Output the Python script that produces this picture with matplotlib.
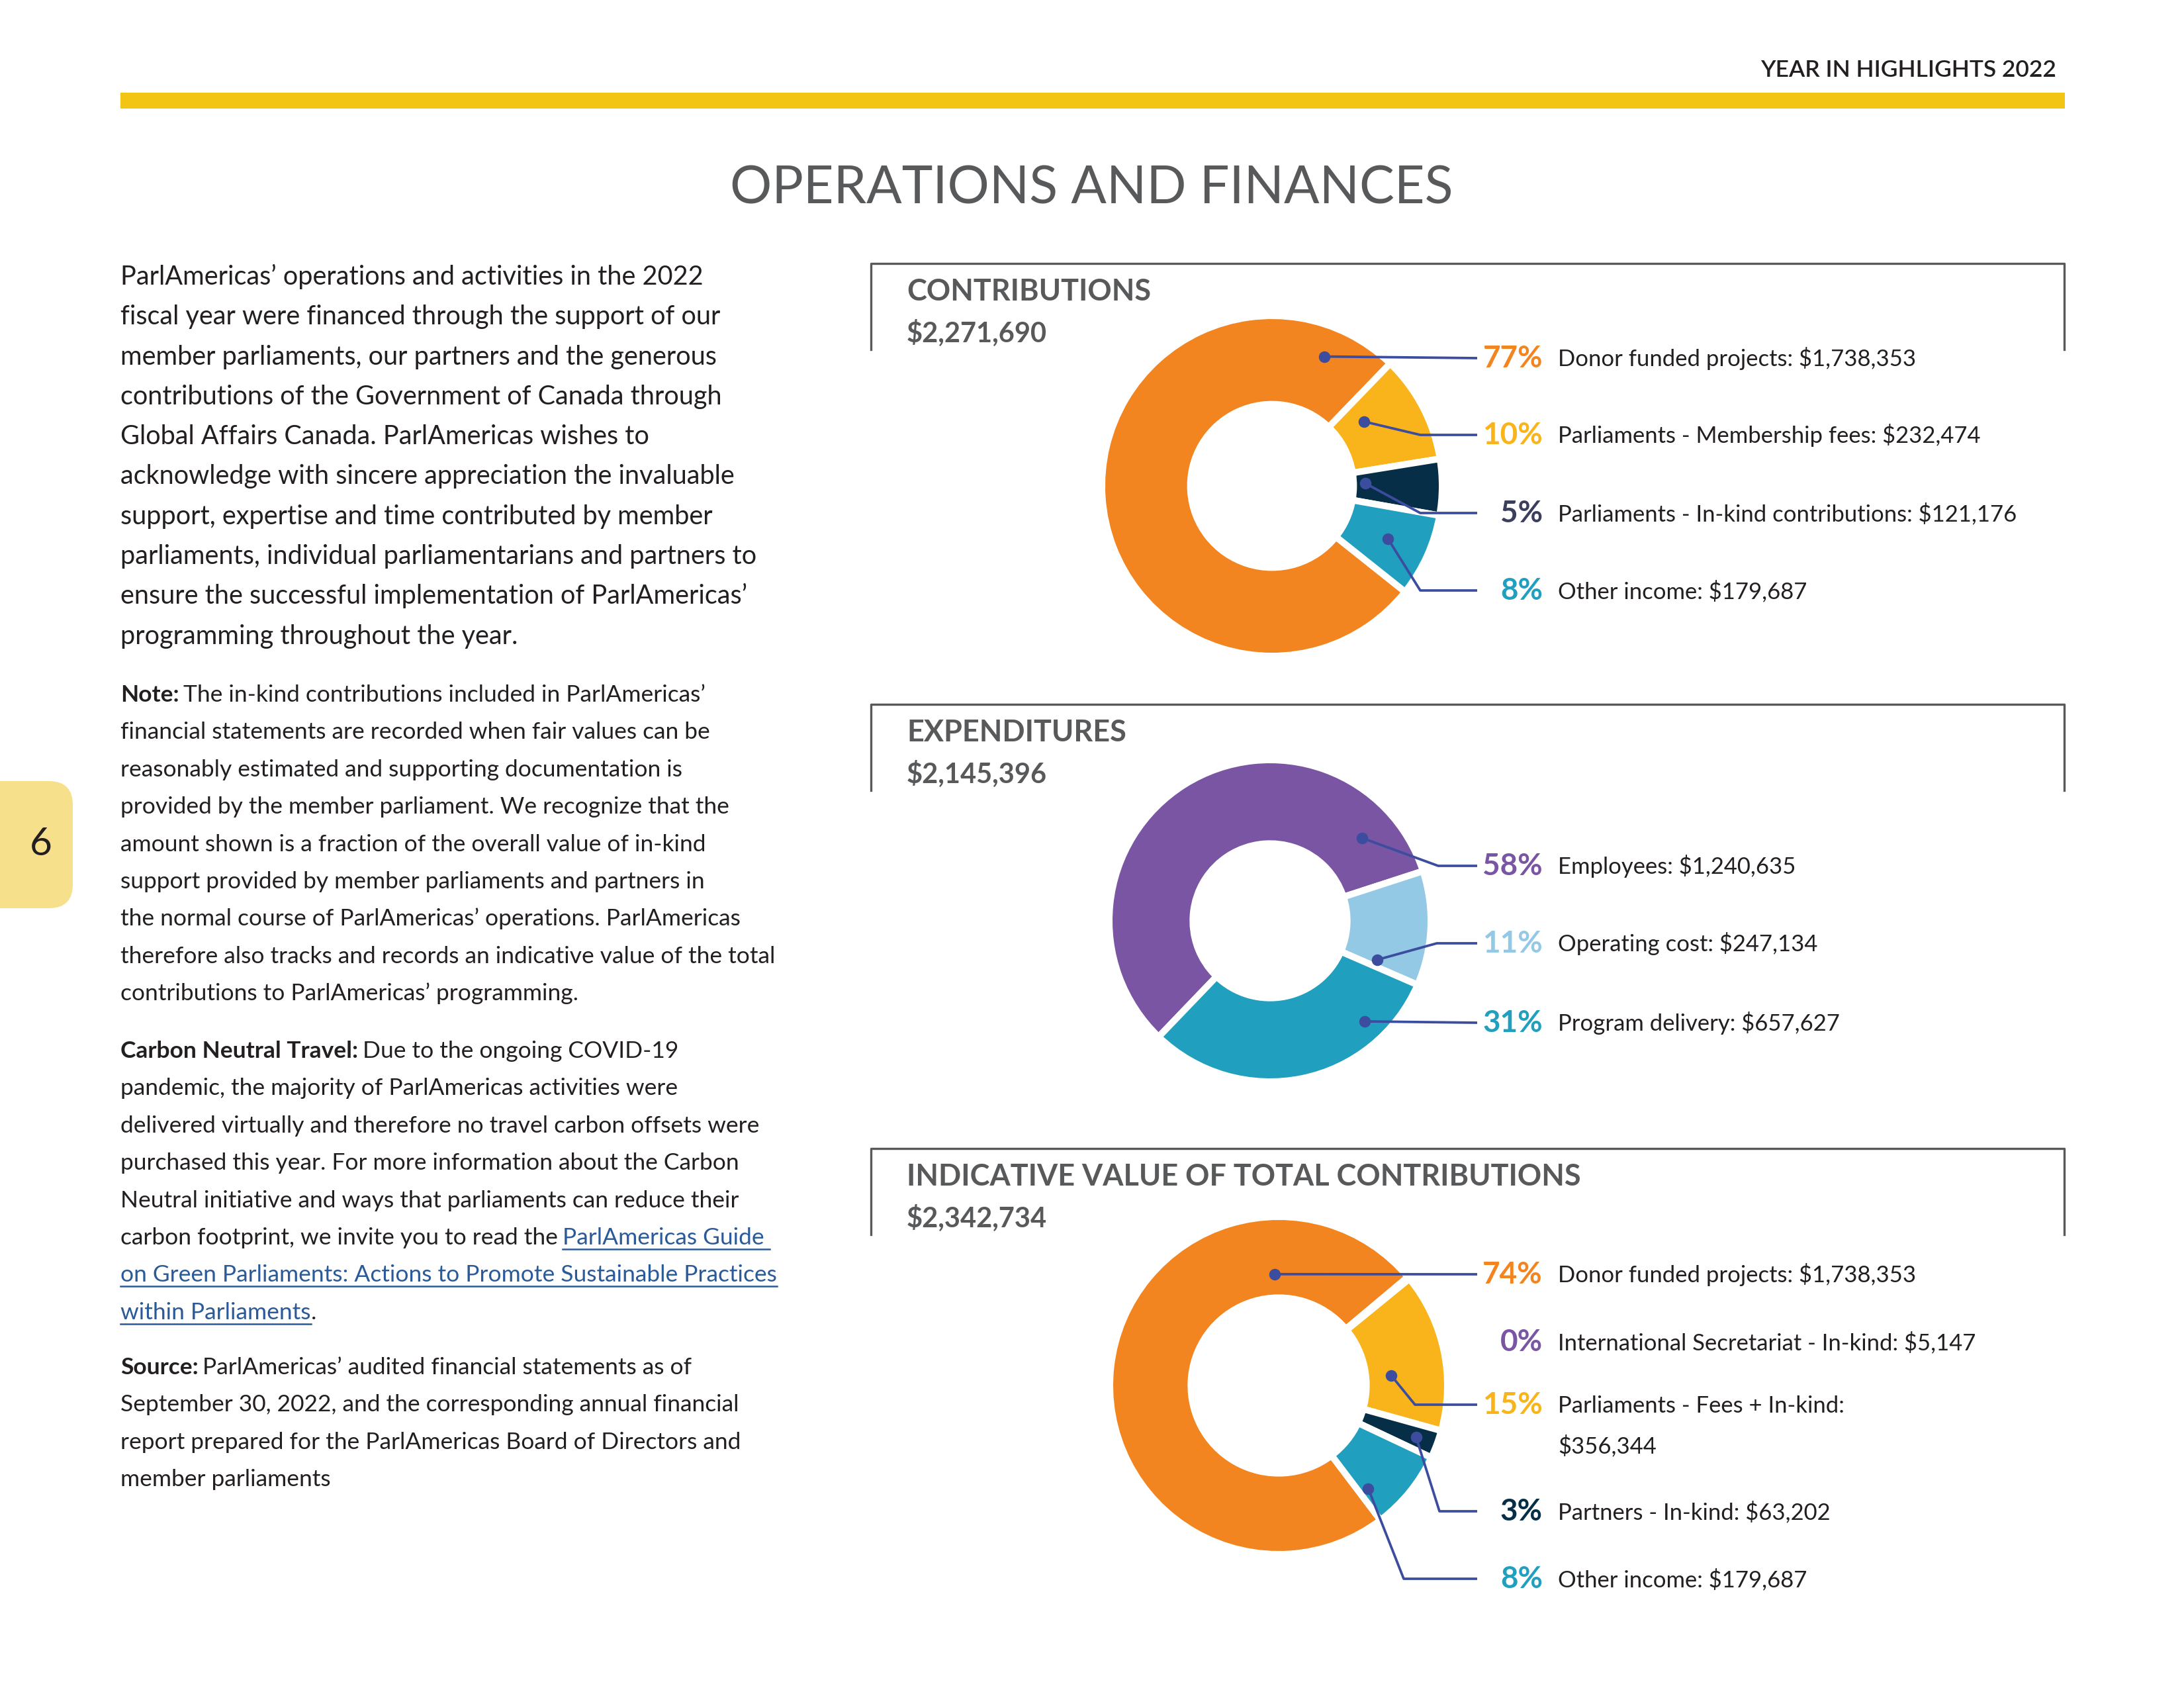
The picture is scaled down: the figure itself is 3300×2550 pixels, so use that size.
import matplotlib.pyplot as plt
from matplotlib.patches import Rectangle, FancyBboxPatch
import numpy as np

plt.rcParams['font.family'] = ['Lato', 'DejaVu Sans']

W, H = 3300, 2550

# ---------------- data ----------------
contrib_total = "$2,271,690"
contrib_values = [1738353, 232474, 121176, 179687]
contrib_pct = ["77%", "10%", "5%", "8%"]
contrib_labels = ["Donor funded projects: $1,738,353",
                  "Parliaments - Membership fees: $232,474",
                  "Parliaments - In-kind contributions: $121,176",
                  "Other income: $179,687"]

expend_total = "$2,145,396"
expend_values = [1240635, 247134, 657627]
expend_pct = ["58%", "11%", "31%"]
expend_labels = ["Employees: $1,240,635",
                 "Operating cost: $247,134",
                 "Program delivery: $657,627"]

indic_total = "$2,342,734"
indic_values = [1738353, 5147, 356344, 63202, 179687]
indic_pct = ["74%", "0%", "15%", "3%", "8%"]
indic_labels = ["Donor funded projects: $1,738,353",
                "International Secretariat - In-kind: $5,147",
                "Parliaments - Fees + In-kind:\n$356,344",
                "Partners - In-kind: $63,202",
                "Other income: $179,687"]

intro = ["ParlAmericas\u2019 operations and activities in the 2022",
         "fiscal year were financed through the support of our",
         "member parliaments, our partners and the generous",
         "contributions of the Government of Canada through",
         "Global Affairs Canada. ParlAmericas wishes to",
         "acknowledge with sincere appreciation the invaluable",
         "support, expertise and time contributed by member",
         "parliaments, individual parliamentarians and partners to",
         "ensure the successful implementation of ParlAmericas\u2019",
         "programming throughout the year."]

note = ["The in-kind contributions included in ParlAmericas\u2019",
        "financial statements are recorded when fair values can be",
        "reasonably estimated and supporting documentation is",
        "provided by the member parliament. We recognize that the",
        "amount shown is a fraction of the overall value of in-kind",
        "support provided by member parliaments and partners in",
        "the normal course of ParlAmericas\u2019 operations. ParlAmericas",
        "therefore also tracks and records an indicative value of the total",
        "contributions to ParlAmericas\u2019 programming."]

carbon = ["Due to the ongoing COVID-19",
          "pandemic, the majority of ParlAmericas activities were",
          "delivered virtually and therefore no travel carbon offsets were",
          "purchased this year. For more information about the Carbon",
          "Neutral initiative and ways that parliaments can reduce their",
          "carbon footprint, we invite you to read the",
          "",
          ""]
carbon_link = ["ParlAmericas Guide ",
               "on Green Parliaments: Actions to Promote Sustainable Practices",
               "within Parliaments"]

source = ["ParlAmericas\u2019 audited financial statements as of",
          "September 30, 2022, and the corresponding annual financial",
          "report prepared for the ParlAmericas Board of Directors and",
          "member parliaments"]

# ---------------- colours ----------------
ORANGE = "#F28520"
YELLOW = "#F8B41A"
NAVY = "#062F47"
TEAL = "#219FBF"
PURPLE = "#7955A3"
LIGHTBLUE = "#93C9E4"
LEADER = "#3C4C9E"
GREY = "#58595B"
INK = "#231F20"
LINK = "#2B5A98"

fig = plt.figure(figsize=(11, 8.5), dpi=300)
page = fig.add_axes([0, 0, 1, 1], zorder=10)
page.set_xlim(0, W)
page.set_ylim(H, 0)
page.axis('off')

# header band
page.text(3107, 116, "YEAR IN HIGHLIGHTS 2022", fontsize=8.5, fontweight='semibold',
          color=INK, ha='right', va='baseline')
page.add_patch(Rectangle((182, 140), 2938, 24, color="#F2C514", lw=0))
page.text(1649, 308, "OPERATIONS AND FINANCES", fontsize=19, color=GREY,
          ha='center', va='baseline')

# page tab
page.add_patch(FancyBboxPatch((-60, 1180), 170, 192, boxstyle="round,pad=0,rounding_size=36",
                              fc="#F6E08C", ec='none', clip_on=False))
page.text(62, 1276, "6", fontsize=14, color=INK, ha='center', va='center')


def text_line(x, y, parts, size):
    t = None
    out = []
    for s, weight, color, gap in parts:
        if t is None:
            t = page.text(x, y, s, fontsize=size, fontweight=weight, color=color,
                          va='baseline', parse_math=False)
        else:
            t = page.annotate(s, xy=(1, 0), xycoords=t, xytext=(gap, 0),
                              textcoords='offset points', fontsize=size, fontweight=weight,
                              color=color, va='bottom', parse_math=False)
        out.append(t)
    return out


LX = 182
for i, s in enumerate(intro):
    text_line(LX, 430 + i * 60.3, [(s, 'normal', INK, 0)], 9.5)

NS = 8.5
GAP = 56.4
SP = 0.19 * NS  # width of a space, in points
for i, s in enumerate(note):
    parts = [(s, 'normal', INK, SP if i == 0 else 0)]
    if i == 0:
        parts = [("Note:", 'bold', INK, 0)] + parts
    text_line(LX, 1060 + i * GAP, parts, NS)

links = []
for i, s in enumerate(carbon):
    y = 1598 + i * GAP
    if i == 0:
        text_line(LX, y, [("Carbon Neutral Travel:", 'bold', INK, 0), (s, 'normal', INK, SP)], NS)
    elif i == 5:
        arts = text_line(LX, y, [(s, 'normal', INK, 0), (carbon_link[0], 'normal', LINK, SP)], NS)
        links.append((arts[1], y))
    elif i == 6:
        arts = text_line(LX, y, [(carbon_link[1], 'normal', LINK, 0)], NS)
        links.append((arts[0], y))
    elif i == 7:
        arts = text_line(LX, y, [(carbon_link[2], 'normal', LINK, 0), (".", 'normal', INK, 0)], NS)
        links.append((arts[0], y))
    else:
        text_line(LX, y, [(s, 'normal', INK, 0)], NS)

for i, s in enumerate(source):
    parts = [(s, 'normal', INK, SP if i == 0 else 0)]
    if i == 0:
        parts = [("Source:", 'bold', INK, 0)] + parts
    text_line(LX, 2076 + i * GAP, parts, NS)

# ---------------- boxes ----------------
BX0, BX1 = 1316, 3119


def section_box(top, title, total):
    page.plot([BX0, BX0, BX1, BX1], [top + 130, top, top, top + 130], color=GREY, lw=0.8)
    page.text(1370, top + 56, title, fontsize=10.8, fontweight='bold', color=GREY,
              va='baseline', parse_math=False)
    page.text(1370, top + 119, total, fontsize=10, fontweight='bold', color=GREY,
              va='baseline', parse_math=False)


section_box(398, "CONTRIBUTIONS", contrib_total)
section_box(1064, "EXPENDITURES", expend_total)
section_box(1735, "INDICATIVE VALUE OF TOTAL CONTRIBUTIONS", indic_total)


# ---------------- donuts ----------------
def donut(cx, cy, rpx, values, colors, start, width):
    half = rpx * 1.05
    ax = fig.add_axes([(cx - half) / W, 1 - (cy + half) / H, 2 * half / W, 2 * half / H])
    wedges, _ = ax.pie(values, colors=colors, startangle=start, counterclock=False,
                       radius=1, wedgeprops=dict(width=width, edgecolor='white', linewidth=2.4))
    ax.set_xlim(-1.05, 1.05)
    ax.set_ylim(-1.05, 1.05)
    return ax, wedges


PCT_X, LAB_X, END_X = 2331, 2354, 2232


def labels(rows, pcts, pct_colors, texts):
    for y, p, c, s in zip(rows, pcts, pct_colors, texts):
        page.text(PCT_X, y + 14, p, fontsize=11, fontweight='bold', color=c,
                  ha='right', va='baseline')
        for k, part in enumerate(s.split("\n")):
            page.text(LAB_X, y + 12 + k * 61, part, fontsize=8.3, color=INK, va='baseline',
                      parse_math=False)


def leaders(ax, wedges, spots, rows, elbows):
    inv = page.transData.inverted()
    for w, spot, ry, ex in zip(wedges, spots, rows, elbows):
        if spot is None:
            continue
        t, rho = spot
        ang = np.radians(w.theta1 + t * (w.theta2 - w.theta1))
        dx, dy = inv.transform(ax.transData.transform((rho * np.cos(ang), rho * np.sin(ang))))
        xs = [dx] + ([ex] if ex else []) + [END_X]
        ys = [dy] + ([ry] if ex else []) + [ry]
        page.plot(xs, ys, color=LEADER, lw=0.9, solid_capstyle='butt')
        page.plot(dx, dy, 'o', color=LEADER, ms=3.2)


# contributions
c_start = 46 + 360 * contrib_values[0] / sum(contrib_values)
ax1, w1 = donut(1922, 734, 257, contrib_values, [ORANGE, YELLOW, NAVY, TEAL], c_start, 0.52)
rows1 = [541, 657, 775, 892]
labels(rows1, contrib_pct, [ORANGE, YELLOW, "#3B3F5C", TEAL], contrib_labels)
leaders(ax1, w1, [(0.08, 0.82), (0.70, 0.66), (0.6, 0.55), (0.49, 0.75)],
        rows1, [None, 2146, 2146, 2146])

# expenditures
e_start = 18 + 360 * expend_values[0] / sum(expend_values)
ax2, w2 = donut(1919, 1391, 243, expend_values, [PURPLE, LIGHTBLUE, TEAL], e_start, 0.52)
rows2 = [1308, 1425, 1545]
labels(rows2, expend_pct, [PURPLE, LIGHTBLUE, TEAL], expend_labels)
leaders(ax2, w2, [(0.115, 0.77), (0.085, 0.71), (0.79, 0.86)], rows2, [2173, 2171, None])

# indicative value
i_start = 40 + 360 * indic_values[0] / sum(indic_values)
ax3, w3 = donut(1932, 2093, 255, indic_values, [ORANGE, PURPLE, YELLOW, NAVY, TEAL], i_start, 0.48)
rows3 = [1925, 2027, 2122, 2283, 2385]
labels(rows3, indic_pct, [ORANGE, PURPLE, YELLOW, NAVY, TEAL], indic_labels)
leaders(ax3, w3, [(0.195, 0.66), None, (0.376, 0.67), (0.48, 0.87), (0.14, 0.81)],
        rows3, [None, None, 2138, 2175, 2121])

# underline the guide link
fig.canvas.draw()
inv = page.transData.inverted()
for t, y in links:
    bb = t.get_window_extent()
    x0 = inv.transform((bb.x0, bb.y0))[0]
    x1 = inv.transform((bb.x1, bb.y0))[0]
    page.plot([x0, x1], [y + 7, y + 7], color=LINK, lw=0.6)

fig.savefig("out.png", dpi=300)
